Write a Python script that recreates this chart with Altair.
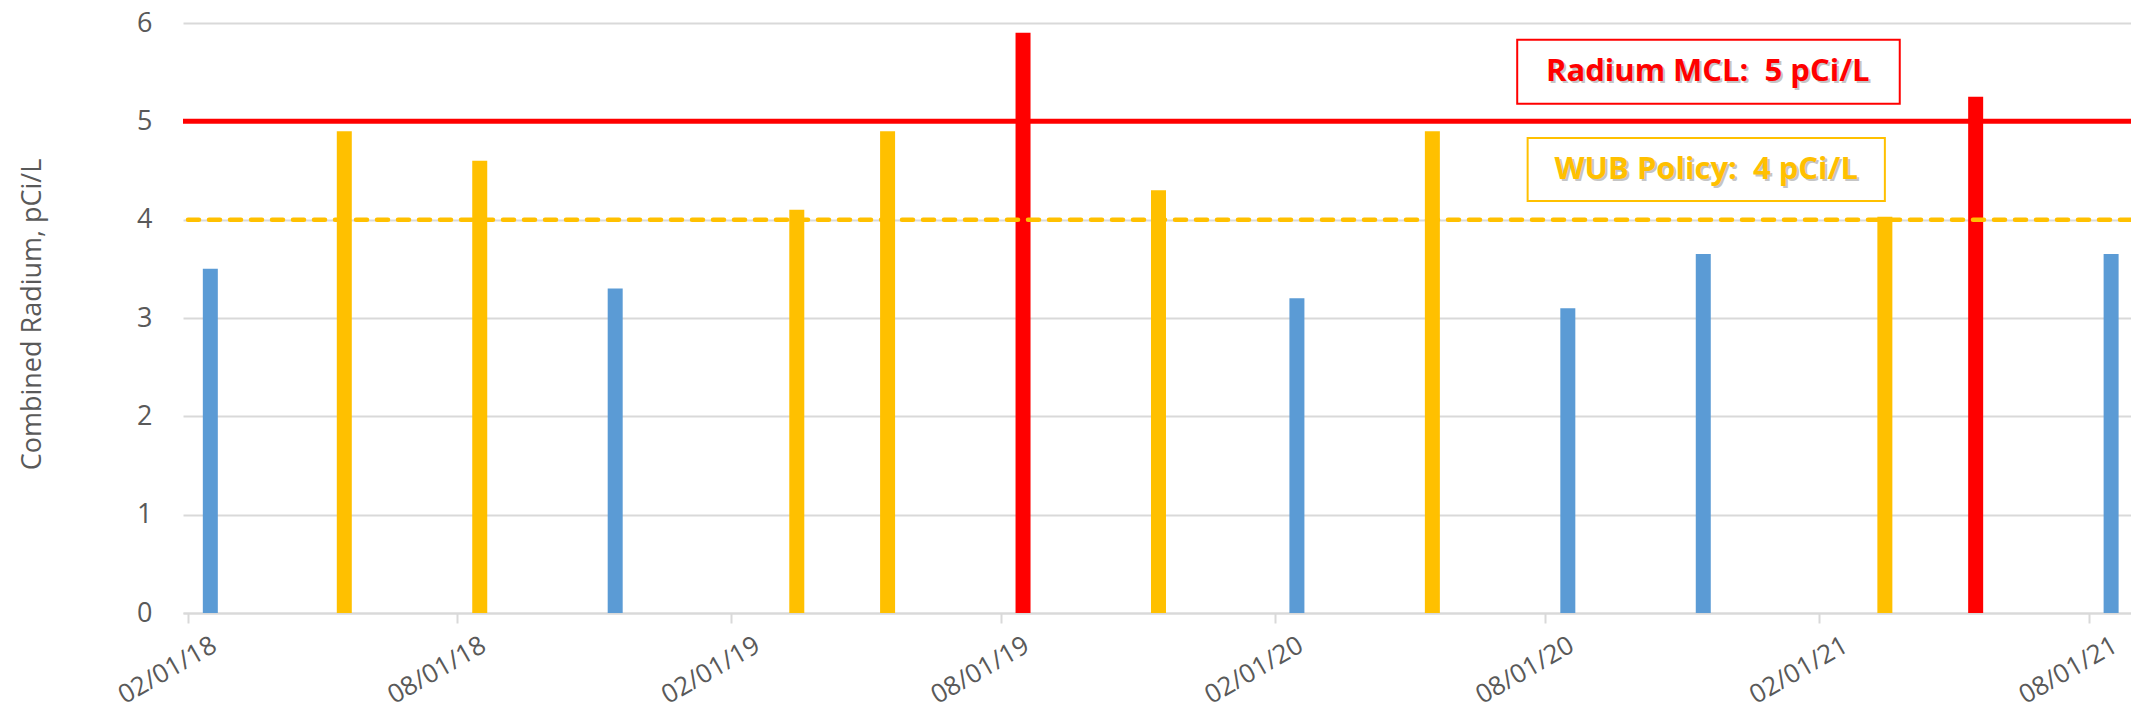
import altair as alt
import pandas as pd

# ---- data ----
sample_dates = ["2018-02-16", "2018-05-17", "2018-08-16", "2018-11-15",
                "2019-03-17", "2019-05-17", "2019-08-16", "2019-11-15",
                "2020-02-16", "2020-05-17", "2020-08-16", "2020-11-15",
                "2021-03-17", "2021-05-17", "2021-08-16"]
radium = [3.5, 4.9, 4.6, 3.3,
          4.1, 4.9, 5.9, 4.3,
          3.2, 4.9, 3.1, 3.65,
          4.03, 5.25, 3.65]
level = ["below", "policy", "policy", "below",
         "policy", "policy", "mcl", "policy",
         "below", "policy", "below", "below",
         "policy", "mcl", "below"]

level_names = ["below", "policy", "mcl"]
level_colors = ["#5B9BD5", "#FFC000", "#FF0000"]

mcl_value = [5]
policy_value = [4]

tick_years = [2018, 2018, 2019, 2019, 2020, 2020, 2021, 2021]
tick_months = [2, 8, 2, 8, 2, 8, 2, 8]

# annotation boxes (in data space)
box_labels = ["Radium MCL:\u00a0 5 pCi/L", "WUB Policy:\u00a0 4 pCi/L"]
box_colors = ["#FF0000", "#FFC000"]
box_x1 = ["2020-07-13", "2020-07-20"]
box_x2 = ["2021-03-27", "2021-03-17"]
box_xc = ["2020-11-18", "2020-11-17"]
box_y1 = [5.83, 4.83]
box_y2 = [5.18, 4.19]
box_yc = [5.50, 4.51]

FONT = "Open Sans"
TXT = "#595959"
GRID = "#D9D9D9"

df = pd.DataFrame({"date": sample_dates, "radium": radium, "level": level})
boxes = pd.DataFrame({"label": box_labels, "color": box_colors,
                      "x1": box_x1, "x2": box_x2, "xc": box_xc,
                      "y1": box_y1, "y2": box_y2, "yc": box_yc})

xscale = alt.Scale(type="utc",
                   domain=[alt.DateTime(year=2018, month=2, date=1, utc=True),
                           alt.DateTime(year=2021, month=8, date=26, utc=True)])
yscale = alt.Scale(domain=[0, 6], nice=False)

xaxis = alt.Axis(
    values=[alt.DateTime(year=y, month=m, date=1, utc=True)
            for y, m in zip(tick_years, tick_months)],
    labelExpr="utcFormat(datum.value, '%m/%d/%y')",
    labelAngle=-30, labelAlign="right", labelBaseline="middle",
    labelOffset=26, labelPadding=20, labelFlush=False, labelOverlap=False,
    labelFont=FONT, labelFontSize=26, labelColor=TXT,
    tickSize=10, tickColor=GRID, tickWidth=2,
    domainColor=GRID, domainWidth=2, grid=False, title=None)

yaxis = alt.Axis(
    values=[0, 1, 2, 3, 4, 5, 6], format="d", grid=True, gridColor=GRID, gridWidth=2,
    domain=False, ticks=False, labelPadding=31,
    labelFont=FONT, labelFontSize=27, labelColor=TXT,
    title="Combined Radium, pCi/L", titleFont=FONT, titleFontSize=27,
    titleFontWeight="normal", titleColor=TXT, titleAngle=-90,
    titleX=-151, titleY=291, titleAlign="center", titleBaseline="middle")

bars = alt.Chart(df).mark_bar(size=15).encode(
    x=alt.X("date:T", scale=xscale, axis=xaxis),
    y=alt.Y("radium:Q", scale=yscale, axis=yaxis),
    color=alt.Color("level:N", scale=alt.Scale(domain=level_names, range=level_colors),
                    legend=None),
)

mcl = alt.Chart(pd.DataFrame({"v": mcl_value})).mark_rule(
    color="#FF0000", strokeWidth=5).encode(y=alt.Y("v:Q", scale=yscale))

policy = alt.Chart(pd.DataFrame({"v": policy_value})).mark_rule(
    color="#FFC000", strokeWidth=4.5, strokeDash=[11, 10], strokeCap="round"
).encode(y=alt.Y("v:Q", scale=yscale))

rects = alt.Chart(boxes).mark_rect(fill="white", strokeWidth=2).encode(
    x=alt.X("x1:T", scale=xscale), x2="x2:T",
    y=alt.Y("y1:Q", scale=yscale), y2="y2:Q",
    stroke=alt.Color("color:N", scale=None),
)

shadow = alt.Chart(boxes).mark_text(
    font=FONT, fontSize=31, fontWeight="bold", color="#7F7F7F", opacity=0.45,
    dx=2, dy=2, align="center", baseline="middle").encode(
    x=alt.X("xc:T", scale=xscale), y=alt.Y("yc:Q", scale=yscale), text="label:N")

texts = alt.Chart(boxes).mark_text(
    font=FONT, fontSize=31, fontWeight="bold", align="center", baseline="middle"
).encode(
    x=alt.X("xc:T", scale=xscale), y=alt.Y("yc:Q", scale=yscale), text="label:N",
    color=alt.Color("color:N", scale=None))

chart = alt.layer(bars, mcl, policy, rects, shadow, texts).properties(
    width=1948, height=590,
    autosize=alt.AutoSizeParams(type="none"),
    padding={"left": 175, "top": 15, "right": 0, "bottom": 99},
).configure_view(stroke=None)

chart.save("out.html", embed_options={"renderer": "svg", "actions": False})
